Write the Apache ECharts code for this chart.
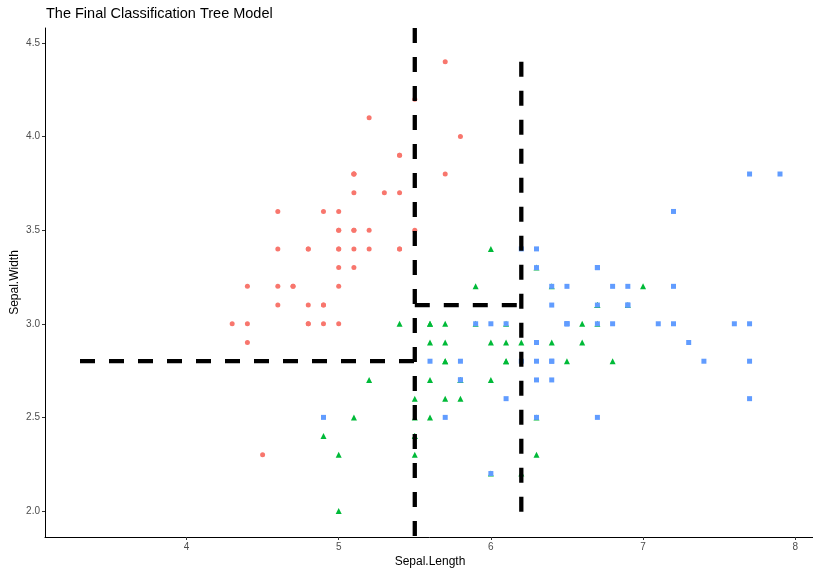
<!DOCTYPE html>
<html>
<head>
<meta charset="utf-8">
<script src="https://cdn.jsdelivr.net/npm/echarts@6/dist/echarts.min.js"></script>
<style>html,body{margin:0;padding:0;background:#fff}#c{width:813px;height:568px}</style>
</head>
<body>
<div id="c"></div>
<script>
var setosa = [[5.1,3.5],[4.9,3.0],[4.7,3.2],[4.6,3.1],[5.0,3.6],[5.4,3.9],[4.6,3.4],[5.0,3.4],[4.4,2.9],[4.9,3.1],[5.4,3.7],[4.8,3.4],[4.8,3.0],[4.3,3.0],[5.8,4.0],[5.7,4.4],[5.4,3.9],[5.1,3.5],[5.7,3.8],[5.1,3.8],[5.4,3.4],[5.1,3.7],[4.6,3.6],[5.1,3.3],[4.8,3.4],[5.0,3.0],[5.0,3.4],[5.2,3.5],[5.2,3.4],[4.7,3.2],[4.8,3.1],[5.4,3.4],[5.2,4.1],[5.5,4.2],[4.9,3.1],[5.0,3.2],[5.5,3.5],[4.9,3.6],[4.4,3.0],[5.1,3.4],[5.0,3.5],[4.5,2.3],[4.4,3.2],[5.0,3.5],[5.1,3.8],[4.8,3.0],[5.1,3.8],[4.6,3.2],[5.3,3.7],[5.0,3.3]];
var versicolor = [[7.0,3.2],[6.4,3.2],[6.9,3.1],[5.5,2.3],[6.5,2.8],[5.7,2.8],[6.3,3.3],[4.9,2.4],[6.6,2.9],[5.2,2.7],[5.0,2.0],[5.9,3.0],[6.0,2.2],[6.1,2.9],[5.6,2.9],[6.7,3.1],[5.6,3.0],[5.8,2.7],[6.2,2.2],[5.6,2.5],[5.9,3.2],[6.1,2.8],[6.3,2.5],[6.1,2.8],[6.4,2.9],[6.6,3.0],[6.8,2.8],[6.7,3.0],[6.0,2.9],[5.7,2.6],[5.5,2.4],[5.5,2.4],[5.8,2.7],[6.0,2.7],[5.4,3.0],[6.0,3.4],[6.7,3.1],[6.3,2.3],[5.6,3.0],[5.5,2.5],[5.5,2.6],[6.1,3.0],[5.8,2.6],[5.0,2.3],[5.6,2.7],[5.7,3.0],[5.7,2.9],[6.2,2.9],[5.1,2.5],[5.7,2.8]];
var virginica = [[6.3,3.3],[5.8,2.7],[7.1,3.0],[6.3,2.9],[6.5,3.0],[7.6,3.0],[4.9,2.5],[7.3,2.9],[6.7,2.5],[7.2,3.6],[6.5,3.2],[6.4,2.7],[6.8,3.0],[5.7,2.5],[5.8,2.8],[6.4,3.2],[6.5,3.0],[7.7,3.8],[7.7,2.6],[6.0,2.2],[6.9,3.2],[5.6,2.8],[7.7,2.8],[6.3,2.7],[6.7,3.3],[7.2,3.2],[6.2,2.8],[6.1,3.0],[6.4,2.8],[7.2,3.0],[7.4,2.8],[7.9,3.8],[6.4,2.8],[6.3,2.8],[6.1,2.6],[7.7,3.0],[6.3,3.4],[6.4,3.1],[6.0,3.0],[6.9,3.1],[6.7,3.1],[6.9,3.1],[5.8,2.7],[6.8,3.2],[6.7,3.3],[6.7,3.0],[6.3,2.5],[6.5,3.0],[6.2,3.4],[5.9,3.0]];
// tree split segments (data coordinates)
var splitSegments = [
  [[5.5,4.58],[5.5,1.861]],
  [[3.3,2.8],[5.5,2.8]],
  [[5.5,3.1],[6.2,3.1]],
  [[6.2,4.4],[6.2,1.98]]
];
var xTicks = [4,5,6,7,8];
var yTicks = [2.0,2.5,3.0,3.5,4.0,4.5];

var chart = echarts.init(document.getElementById('c'));
var font = 'Liberation Sans, Arial, sans-serif';
var series = [
  {name:'setosa', type:'scatter', data:setosa, symbol:'circle', symbolSize:5, itemStyle:{color:'#F8766D',opacity:1}, z:2},
  {name:'versicolor', type:'scatter', data:versicolor, symbol:'triangle', symbolSize:6, itemStyle:{color:'#00BA38',opacity:1}, z:2},
  {name:'virginica', type:'scatter', data:virginica, symbol:'rect', symbolSize:5, itemStyle:{color:'#619CFF',opacity:1}, z:2}
];
splitSegments.forEach(function(seg){
  series.push({type:'line', data:seg, symbol:'none', silent:true, animation:false, z:5,
    lineStyle:{color:'#000', width:4.3, type:[15,14], cap:'butt'}});
});
chart.setOption({
  animation:false,
  title:{text:'The Final Classification Tree Model', left:41, top:1,
    textStyle:{fontFamily:font, fontSize:14.5, fontWeight:'normal', color:'#000'}},
  grid:{left:45, right:-2, top:28, bottom:31, containLabel:false, outerBoundsMode:'none'},
  xAxis:{type:'value', min:3.07, max:8.13, name:'Sepal.Length', nameLocation:'middle', nameGap:19,
    nameMoveOverlap:false,
    nameTextStyle:{fontFamily:font, fontSize:12, color:'#000'},
    axisLine:{onZero:false, lineStyle:{color:'#000', width:1}},
    axisTick:{show:true, length:3, lineStyle:{color:'#333'}, customValues:xTicks},
    axisLabel:{fontFamily:font, fontSize:10, color:'#4D4D4D', margin:5, customValues:xTicks,
      formatter:function(v){return String(v);}},
    splitLine:{show:false}},
  yAxis:{type:'value', min:1.861, max:4.58, name:'Sepal.Width', nameLocation:'middle', nameGap:24,
    nameMoveOverlap:false,
    nameTextStyle:{fontFamily:font, fontSize:12, color:'#000'},
    axisLine:{onZero:false, lineStyle:{color:'#000', width:1}},
    axisTick:{show:true, length:3, lineStyle:{color:'#333'}, customValues:yTicks},
    axisLabel:{fontFamily:font, fontSize:10, color:'#4D4D4D', margin:5, customValues:yTicks,
      formatter:function(v){return v.toFixed(1);}},
    splitLine:{show:false}},
  series:series
});
</script>
</body>
</html>
